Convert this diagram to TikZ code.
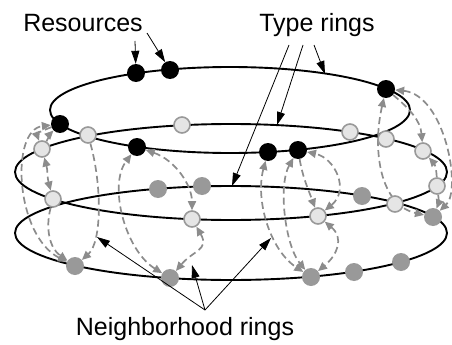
\documentclass[tikz,border=0pt]{standalone}
\usepackage{fontspec}
\setmainfont{Liberation Sans}
\usetikzlibrary{arrows.meta,backgrounds}

\tikzset{
  bres/.style={circle,fill=black,minimum size=18pt,inner sep=0pt},
  lres/.style={circle,fill=black!10,draw=black!40,line width=1.6pt,minimum size=16pt,inner sep=0pt},
  gres/.style={circle,fill=black!40,minimum size=18pt,inner sep=0pt},
  ring/.style={line width=1.9pt},
  nbr/.style={draw=black!45,line width=1.7pt,dash pattern=on 7pt off 4pt,
    >={Triangle[length=9pt,width=8pt]},->},
  lbl/.style={line width=0.8pt,-{Triangle[length=13pt,width=8pt]}},
  lab/.style={font=\fontsize{25}{30}\selectfont,inner sep=0pt,anchor=base}
}

\begin{document}
\begin{tikzpicture}[x=1pt,y=1pt]
\useasboundingbox (0,0) rectangle (452,-345);

% black type
\node[bres] (b1) at (136,-73) {};
\node[bres] (b2) at (170,-70) {};
\node[bres] (b3) at (386,-89) {};
\node[bres] (b4) at (60,-124) {};
\node[bres] (b5) at (137,-147) {};
\node[bres] (b6) at (268,-152) {};
\node[bres] (b7) at (298,-150) {};
% light type
\node[lres] (l1) at (42,-149) {};
\node[lres] (l2) at (88,-135) {};
\node[lres] (l3) at (182,-125) {};
\node[lres] (l4) at (350,-132) {};
\node[lres] (l5) at (386,-139) {};
\node[lres] (l6) at (423,-151) {};
\node[lres] (l7) at (437,-186) {};
\node[lres] (l8) at (395,-204) {};
\node[lres] (l9) at (318,-216) {};
\node[lres] (l10) at (192,-219) {};
\node[lres] (l11) at (53,-199) {};
% grey type
\node[gres] (g1) at (158,-189) {};
\node[gres] (g2) at (202,-186) {};
\node[gres] (g3) at (362,-196) {};
\node[gres] (g4) at (433,-217) {};
\node[gres] (g5) at (75,-266) {};
\node[gres] (g6) at (170,-278) {};
\node[gres] (g7) at (311,-277) {};
\node[gres] (g8) at (354,-272) {};
\node[gres] (g9) at (401,-262) {};

\begin{scope}[on background layer]
\draw[ring] (230,-110) ellipse [x radius=180pt,y radius=43pt];
\draw[ring] (231,-172) ellipse [x radius=216pt,y radius=48pt];
\draw[ring] (231,-233) ellipse [x radius=216pt,y radius=47pt];

% left neighborhood
\draw[nbr] (l2) .. controls (102,-185) and (102,-242) .. (g5);
\draw[nbr,<->] (g5) .. controls (15,-235) and (10,-130) .. (b4);
\draw[nbr] (b4) to[out=200,in=110] (l1);
\draw[nbr] (l1) to[out=60,in=-135] (b4);
\draw[nbr,<->] (l1) to[out=-75,in=105] (l11);
\draw[nbr] (l11) to[out=-105,in=145] (g5);
% middle left
\draw[nbr,<->] (b5) .. controls (175,-160) and (192,-185) .. (l10);
\draw[nbr,<->] (l10) to[out=-60,in=50,looseness=1.4] (g6);
\draw[nbr,<->] (g6) .. controls (125,-250) and (108,-185) .. (b5);
% middle right
\draw[nbr,<->] (b6) .. controls (255,-200) and (270,-250) .. (g7);
\draw[nbr,<->] (b7) .. controls (278,-185) and (285,-245) .. (g7);
\draw[nbr] (b7) to[out=-80,in=110] (l9);
\draw[nbr,<->] (l9) .. controls (350,-190) and (335,-158) .. (b7);
\draw[nbr,<->] (l9) to[out=-40,in=40,looseness=1.3] (g7);
% right
\draw[nbr,<->] (b3) .. controls (372,-150) and (380,-205) .. (g4);
\draw[nbr,<->] (b3) .. controls (445,-95) and (462,-190) .. (g4);
\draw[nbr] (b3) to[out=-40,in=95] (l6);
\draw[nbr] (l7) to[bend right=20] (l6);
\draw[nbr] (l7) to[bend left=15] (g4);
\end{scope}

\node[lab] (res) at (83,-32) {Resources};
\coordinate (ra) at (135,-41);
\coordinate (rb) at (147,-33);
\draw[lbl] (ra) -- (b1);
\draw[lbl] (rb) -- (b2);

\node[lab] (typ) at (317,-32) {Type rings};
\coordinate (ta) at (289,-45);
\coordinate (tb) at (303,-45);
\coordinate (tc) at (314,-45);
\coordinate (t1) at (232,-186);
\coordinate (t2) at (277,-125);
\coordinate (t3) at (325,-74);
\draw[lbl] (ta) -- (t1);
\draw[lbl] (tb) -- (t2);
\draw[lbl] (tc) -- (t3);

\node[lab] (nbh) at (185,-335) {Neighborhood rings};
\coordinate (na) at (205,-310);
\coordinate (n1) at (97,-237);
\coordinate (n2) at (192,-265);
\coordinate (n3) at (271,-238);
\draw[lbl] (na) -- (n1);
\draw[lbl] (na) -- (n2);
\draw[lbl] (na) -- (n3);
\end{tikzpicture}
\end{document}
